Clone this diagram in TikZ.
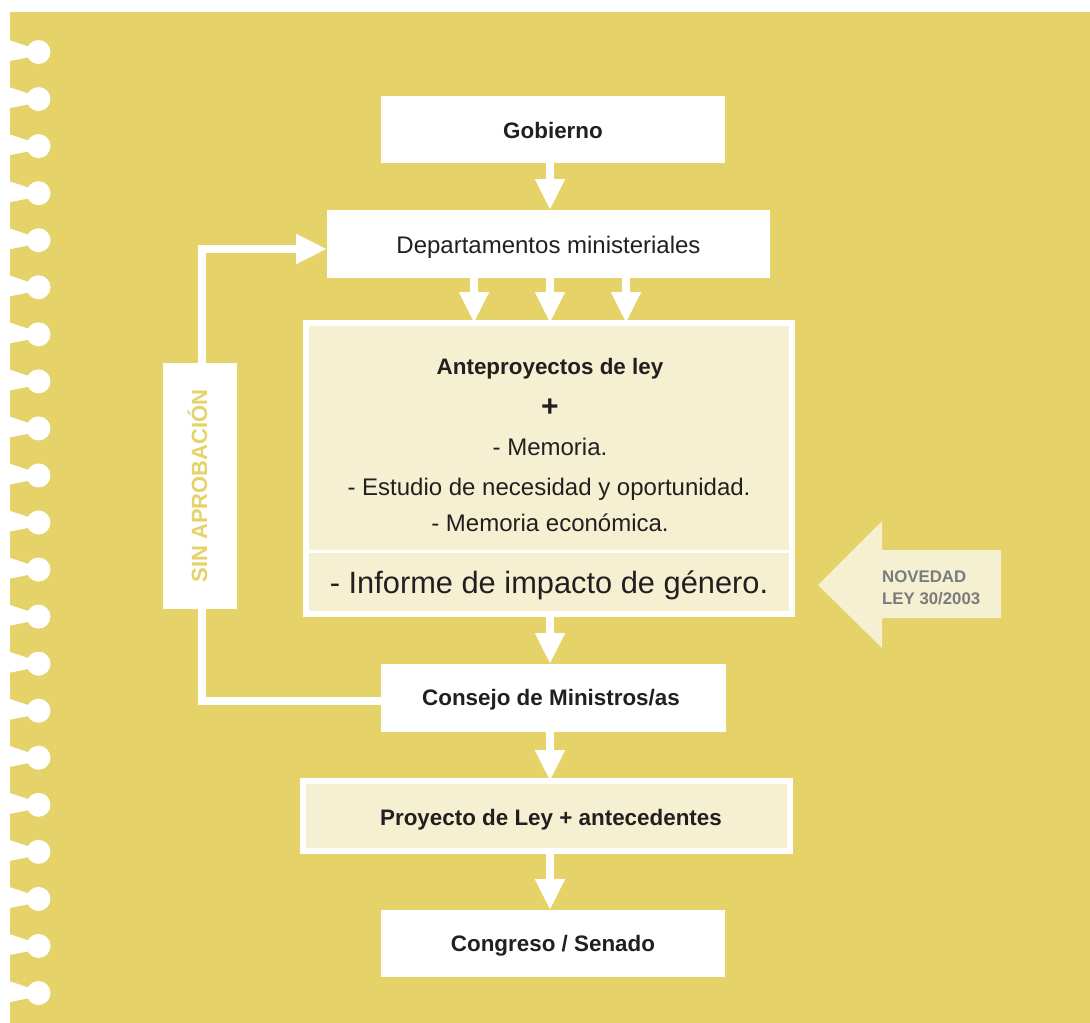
\documentclass[tikz,border=0pt]{standalone}
\usepackage{fontspec}
\setmainfont{Liberation Sans}
\usetikzlibrary{arrows.meta}
\definecolor{bgyellow}{HTML}{E5D268}
\definecolor{lightfill}{HTML}{F6F0D2}
\definecolor{darktext}{HTML}{231F20}
\definecolor{graytext}{HTML}{7A7B7D}
\tikzset{
  whitebox/.style={fill=white, draw=none, inner sep=0pt, outer sep=0pt},
  framebox/.style={fill=lightfill, draw=white, line width=6pt, inner sep=0pt, outer sep=0pt},
  boldlabel/.style={font=\fontsize{22.4}{26}\selectfont\bfseries, text=darktext, inner sep=0pt, anchor=base},
  reglabel/.style={font=\fontsize{24}{28}\selectfont, text=darktext, inner sep=0pt, anchor=base},
  flow/.style={draw=white, line width=8pt, -{Triangle[width=28pt,length=31pt]}},
  loopline/.style={draw=white, line width=8pt, line join=miter},
  novlabel/.style={font=\fontsize{16.8}{22}\selectfont\bfseries, text=graytext, inner sep=0pt, anchor=base west}
}
\begin{document}
\begin{tikzpicture}[x=1pt,y=-1pt]
\useasboundingbox (0,0) rectangle (1090,1023);
\fill[white] (0,0) rectangle (1090,1023);
\fill[bgyellow] (10,12) rectangle (1090,1023);
% binding holes
\foreach \k in {0,...,20}{
  \pgfmathsetmacro{\yy}{52+\k*47.05}
  \fill[white] (0,\yy-15) -- (30,\yy-5) -- (30,\yy+5) -- (0,\yy+11) -- cycle;
  \fill[white] (38.5,\yy) circle[radius=12];
}
% boxes
\node[whitebox, minimum width=344, minimum height=67] (gob) at (553,129.5) {};
\node[whitebox, minimum width=443, minimum height=68] (dep) at (548.5,244) {};
\node[framebox, minimum width=486, minimum height=291] (ante) at (549,468.5) {};
\draw[white, line width=3.5pt] (ante.west |- 0,551.5) -- (ante.east |- 0,551.5);
\node[whitebox, minimum width=345, minimum height=68] (cons) at (553.5,698) {};
\node[framebox, minimum width=487, minimum height=70] (proy) at (546.5,816) {};
\node[whitebox, minimum width=344, minimum height=67] (cong) at (553,943.5) {};
\node[whitebox, minimum width=74, minimum height=246] (sin) at (200,486) {};
% texts
\node[boldlabel] (gobt) at (553,138) {Gobierno};
\node[reglabel] (dept) at (548.5,253) {Departamentos ministeriales};
\node[boldlabel] (antet) at (550,374) {Anteproyectos de ley};
\node[font=\fontsize{30}{32}\selectfont\bfseries, text=darktext, inner sep=0pt] (plus) at (550,408) {+};
\node[reglabel] (mem1) at (550,455) {- Memoria.};
\node[reglabel] (estu) at (549,495) {- Estudio de necesidad y oportunidad.};
\node[reglabel] (mem2) at (550,531) {- Memoria económica.};
\node[font=\fontsize{30.8}{34}\selectfont, text=darktext, inner sep=0pt, anchor=base] (info) at (549,593) {- Informe de impacto de género.};
\node[boldlabel] (const) at (551,705) {Consejo de Ministros/as};
\node[boldlabel] (proyt) at (551,825) {Proyecto de Ley + antecedentes};
\node[boldlabel] (congt) at (553,951) {Congreso / Senado};
\node[font=\fontsize{22}{26}\selectfont\bfseries, text=bgyellow, inner sep=0pt, anchor=base, rotate=90] (sint) at (207,486) {SIN APROBACIÓN};
% novedad arrow
\fill[lightfill] (818,585) -- (882,521) -- (882,550) -- (1001,550) -- (1001,618) -- (882,618) -- (882,648) -- cycle;
\node[novlabel] (nov1) at (882,582) {NOVEDAD};
\node[novlabel] (nov2) at (882,604) {LEY 30/2003};
% connectors
\draw[flow] (550,0 |- gob.south) -- (550,0 |- dep.north);
\draw[flow] (474,0 |- dep.south) -- (474,0 |- ante.north);
\draw[flow] (550,0 |- dep.south) -- (550,0 |- ante.north);
\draw[flow] (626,0 |- dep.south) -- (626,0 |- ante.north);
\draw[flow] (550,0 |- ante.south) -- (550,0 |- cons.north);
\draw[flow] (550,0 |- cons.south) -- (550,0 |- proy.north);
\draw[flow] (550,0 |- proy.south) -- (550,0 |- cong.north);
\draw[loopline] (cons.west |- 0,701) -| (202,0 |- sin.south);
\draw[flow] (202,0 |- sin.north) |- (dep.west |- 0,249);
\end{tikzpicture}
\end{document}
